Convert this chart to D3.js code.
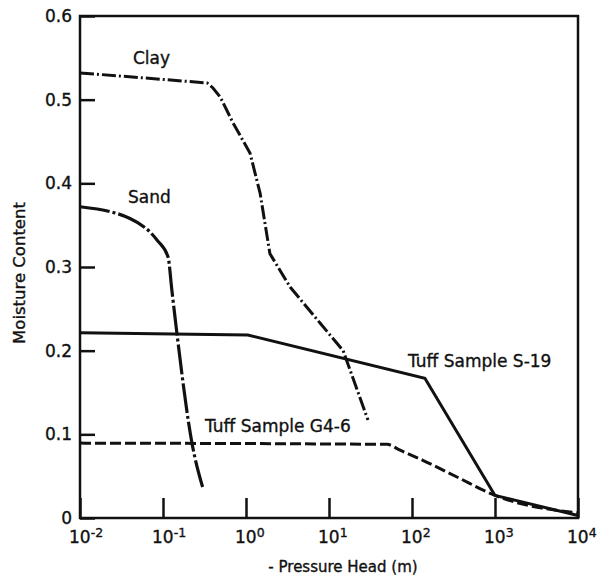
<!DOCTYPE html>
<html>
<head>
<meta charset="utf-8">
<script src="https://cdn.jsdelivr.net/npm/d3@7"></script>
<style>
  html, body { margin: 0; padding: 0; background: #fff; }
  svg { display: block; }
  text { font-family: "DejaVu Sans", sans-serif; fill: #111; stroke: #111; stroke-width: 0.35px; }
</style>
</head>
<body>
<svg id="chart" width="597" height="575"></svg>
<script>
// ---- data ----
const xTickExponents = [-2, -1, 0, 1, 2, 3, 4];
const yTickValues = [0, 0.1, 0.2, 0.3, 0.4, 0.5, 0.6];
const yTickLabels = ["0", "0.1", "0.2", "0.3", "0.4", "0.5", "0.6"];

const clayX = [0.01, 0.34, 0.40, 0.49, 0.70, 1.12, 1.48, 1.94, 3.4, 7.8, 14.8, 29.5];
const clayY = [0.532, 0.520, 0.514, 0.503, 0.472, 0.436, 0.388, 0.316, 0.276, 0.233, 0.200, 0.117];

const sandX = [0.01, 0.04, 0.085, 0.115, 0.128, 0.147, 0.223, 0.30];
const sandY = [0.372, 0.358, 0.332, 0.312, 0.272, 0.221, 0.090, 0.037];

const s19X = [0.01, 1.05, 143, 1000, 10000];
const s19Y = [0.2215, 0.2187, 0.167, 0.027, 0.003];

const g46X = [0.01, 50, 72, 135, 348, 1000, 10000];
const g46Y = [0.0895, 0.088, 0.081, 0.069, 0.049, 0.027, 0.006];

const seriesLabels = ["Clay", "Sand", "Tuff Sample S-19", "Tuff Sample G4-6"];
const xTitle = "- Pressure Head (m)";
const yTitle = "Moisture Content";

// ---- layout ----
const svg = d3.select("#chart");
const L = 80, R = 578, T = 16, B = 518;

const x = d3.scaleLog().domain([1e-2, 1e4]).range([L, R]);
const y = d3.scaleLinear().domain([0, 0.6]).range([B, T]);

// frame
svg.append("rect")
  .attr("x", L).attr("y", T).attr("width", R - L).attr("height", B - T)
  .attr("fill", "none").attr("stroke", "#111").attr("stroke-width", 2.5);

// y axis
const yAxis = d3.axisLeft(y)
  .tickValues(yTickValues)
  .tickFormat((d, i) => yTickLabels[i])
  .tickSize(-15)
  .tickPadding(8);
const gy = svg.append("g").attr("transform", `translate(${L},0)`).call(yAxis);
gy.select(".domain").remove();
gy.selectAll(".tick line").attr("stroke", "#111").attr("stroke-width", 2.5);
gy.selectAll(".tick text")
  .style("font-family", "DejaVu Sans, sans-serif")
  .style("font-size", "17px").attr("fill", "#111");

// x axis
const xAxis = d3.axisBottom(x)
  .tickValues(xTickExponents.map(e => Math.pow(10, e)))
  .tickFormat("")
  .tickSize(-20);
const gx = svg.append("g").attr("transform", `translate(0,${B})`).call(xAxis);
gx.select(".domain").remove();
gx.selectAll(".tick line").attr("stroke", "#111").attr("stroke-width", 2.5);

// x tick labels: "10" with superscript exponent
xTickExponents.forEach(e => {
  const cx = x(Math.pow(10, e)) - 1;
  const t = svg.append("text")
    .attr("x", cx - 10).attr("y", 543)
    .style("font-size", "17px");
  t.append("tspan").text("10");
  t.append("tspan").attr("dy", -6).style("font-size", "12.5px")
    .text(e < 0 ? "-" + Math.abs(e) : String(e));
});

// axis titles
svg.append("text")
  .attr("x", 343).attr("y", 572)
  .attr("text-anchor", "middle")
  .style("font-size", "15px")
  .text(xTitle);

svg.append("text")
  .attr("transform", "translate(25,273) rotate(-90)")
  .attr("text-anchor", "middle")
  .style("font-size", "16.5px")
  .text(yTitle);

// curves
const toPts = (xs, ys) => xs.map((v, i) => [v, ys[i]]);
const lineLin = d3.line().x(d => x(d[0])).y(d => y(d[1]));
const lineMonoX = d3.line().x(d => x(d[0])).y(d => y(d[1])).curve(d3.curveMonotoneX);

const plot = svg.append("g");

plot.append("path")
  .attr("d", lineLin(toPts(clayX, clayY)))
  .attr("fill", "none").attr("stroke", "#111").attr("stroke-width", 3)
  .attr("stroke-dasharray", "14,3,2,3");

plot.append("path")
  .attr("d", lineMonoX(toPts(sandX, sandY)))
  .attr("fill", "none").attr("stroke", "#111").attr("stroke-width", 3.2)
  .attr("stroke-dasharray", "30,3,3,3");

plot.append("path")
  .attr("d", lineLin(toPts(s19X, s19Y)))
  .attr("fill", "none").attr("stroke", "#111").attr("stroke-width", 3);

plot.append("path")
  .attr("d", lineMonoX(toPts(g46X, g46Y)))
  .attr("fill", "none").attr("stroke", "#111").attr("stroke-width", 3)
  .attr("stroke-dasharray", "11,4");

// series labels
const labelPos = [[133, 64], [128, 203], [408, 367], [205, 432]];
seriesLabels.forEach((s, i) => {
  svg.append("text")
    .attr("x", labelPos[i][0]).attr("y", labelPos[i][1])
    .style("font-size", "17px")
    .text(s);
});
</script>
</body>
</html>
